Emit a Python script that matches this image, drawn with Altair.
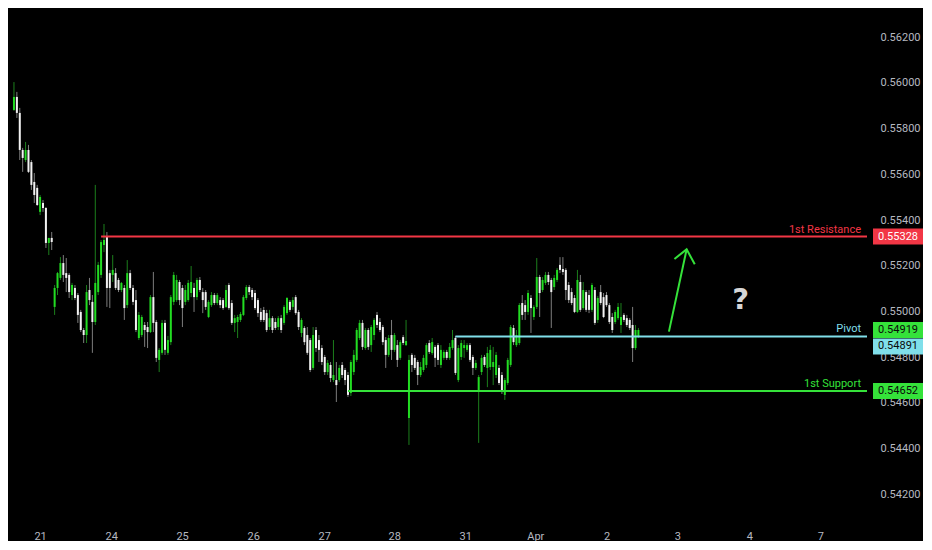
import altair as alt
import pandas as pd

# ---------------- data ----------------
opens = [0.55882,0.55939,0.55869,0.55707,0.55663,0.55707,0.55654,0.55567,0.55541,0.55436,
0.55475,0.55453,0.55300,0.55322,0.55020,0.55103,0.55147,0.55212,0.55168,0.55160,
0.55072,0.55103,0.55072,0.54998,0.54919,0.54897,0.55094,0.55042,0.54954,0.55085,
0.55160,0.55291,0.55326,0.55168,0.55160,0.55168,0.55138,0.55094,0.55103,0.55028,
0.55168,0.55103,0.55050,0.54884,0.54897,0.54941,0.54932,0.54910,0.55063,0.54954,
0.54788,0.54819,0.54950,0.54819,0.54866,0.55042,0.55050,0.55129,0.55103,0.55042,
0.55050,0.55081,0.55103,0.55063,0.55138,0.55085,0.55085,0.54976,0.55028,0.55072,
0.55037,0.55050,0.55050,0.55020,0.55116,0.55037,0.54950,0.54954,0.54963,0.54985,
0.55059,0.55107,0.55094,0.55081,0.55050,0.54998,0.55007,0.54993,0.54932,0.54971,
0.54954,0.54932,0.54971,0.54950,0.54993,0.55042,0.55020,0.55063,0.54998,0.54906,
0.54928,0.54897,0.54875,0.54753,0.54919,0.54875,0.54840,0.54801,0.54735,0.54766,
0.54700,0.54700,0.54700,0.54766,0.54744,0.54722,0.54643,0.54735,0.54788,0.54884,
0.54950,0.54840,0.54919,0.54853,0.54897,0.54985,0.54954,0.54932,0.54875,0.54810,
0.54897,0.54832,0.54853,0.54797,0.54888,0.54853,0.54534,0.54810,0.54797,0.54779,
0.54722,0.54744,0.54766,0.54862,0.54818,0.54845,0.54853,0.54766,0.54797,0.54823,
0.54797,0.54840,0.54884,0.54700,0.54801,0.54840,0.54832,0.54853,0.54801,0.54753,
0.54656,0.54735,0.54801,0.54753,0.54757,0.54757,0.54722,0.54753,0.54722,0.54635,
0.54687,0.54766,0.54928,0.54853,0.54862,0.55037,0.55028,0.54998,0.55059,0.54976,
0.55020,0.55151,0.55094,0.55125,0.55160,0.55138,0.55107,0.55138,0.55204,0.55186,
0.55182,0.55116,0.55085,0.55059,0.54998,0.55129,0.55015,0.55085,0.55072,0.55007,
0.55094,0.54963,0.55085,0.55063,0.55072,0.55028,0.54976,0.54954,0.54971,0.54941,
0.54985,0.54971,0.54963,0.54941,0.54840,0.54888]
highs = [0.56004,0.55961,0.55891,0.55716,0.55742,0.55729,0.55663,0.55606,0.55554,0.55510,
0.55488,0.55457,0.55322,0.55348,0.55116,0.55173,0.55238,0.55247,0.55234,0.55168,
0.55125,0.55116,0.55081,0.55007,0.54928,0.55116,0.55147,0.55072,0.55554,0.55217,
0.55313,0.55383,0.55348,0.55182,0.55247,0.55190,0.55147,0.55129,0.55116,0.55225,
0.55182,0.55116,0.55094,0.54998,0.54985,0.54954,0.54954,0.55072,0.55173,0.54963,
0.54840,0.54963,0.54963,0.54893,0.55072,0.55173,0.55160,0.55138,0.55116,0.55116,
0.55138,0.55199,0.55125,0.55147,0.55151,0.55103,0.55094,0.55050,0.55085,0.55081,
0.55081,0.55063,0.55059,0.55116,0.55125,0.55050,0.54985,0.54985,0.54998,0.55072,
0.55116,0.55116,0.55103,0.55094,0.55059,0.55015,0.55020,0.55007,0.55007,0.54980,
0.54971,0.54980,0.54985,0.55028,0.55063,0.55050,0.55063,0.55072,0.55007,0.54971,
0.54936,0.54932,0.54884,0.54932,0.54932,0.54897,0.54853,0.54810,0.54788,0.54779,
0.54875,0.54779,0.54766,0.54779,0.54753,0.54735,0.54788,0.54832,0.54928,0.54963,
0.54963,0.54928,0.54928,0.54941,0.54971,0.54998,0.54971,0.54941,0.54888,0.54897,
0.54963,0.54906,0.54875,0.54875,0.54897,0.54963,0.54810,0.54818,0.54810,0.54788,
0.54779,0.54810,0.54862,0.54875,0.54884,0.54853,0.54862,0.54853,0.54832,0.54832,
0.54862,0.54919,0.54893,0.54853,0.54875,0.54875,0.54862,0.54862,0.54810,0.54788,
0.54722,0.54810,0.54810,0.54845,0.54853,0.54845,0.54823,0.54766,0.54735,0.54709,
0.54797,0.54941,0.54941,0.54919,0.55037,0.55072,0.55050,0.55094,0.55072,0.55028,
0.55234,0.55160,0.55151,0.55173,0.55173,0.55147,0.55160,0.55190,0.55238,0.55238,
0.55190,0.55129,0.55103,0.55072,0.55182,0.55160,0.55129,0.55094,0.55094,0.55125,
0.55107,0.55068,0.55116,0.55081,0.55085,0.55037,0.54993,0.55007,0.55037,0.55037,
0.54993,0.54985,0.54971,0.55020,0.54941,0.54928]
lows = [0.55878,0.55847,0.55663,0.55611,0.55654,0.55606,0.55532,0.55475,0.55462,0.55422,
0.55436,0.55278,0.55247,0.55269,0.54985,0.55072,0.55138,0.55129,0.55085,0.55059,
0.55050,0.55050,0.54950,0.54910,0.54862,0.54862,0.55028,0.54819,0.54941,0.55072,
0.55147,0.55260,0.55020,0.55015,0.55129,0.55094,0.55085,0.55085,0.54963,0.55015,
0.55094,0.55028,0.54910,0.54875,0.54888,0.54845,0.54840,0.54906,0.54910,0.54779,
0.54735,0.54810,0.54810,0.54810,0.54853,0.55028,0.55042,0.55028,0.54932,0.55028,
0.55042,0.55063,0.54998,0.55050,0.55085,0.54993,0.55007,0.54971,0.55020,0.55028,
0.55028,0.55015,0.55007,0.55015,0.55007,0.54941,0.54910,0.54884,0.54954,0.54980,
0.55050,0.55072,0.55050,0.55007,0.54976,0.54954,0.54954,0.54910,0.54919,0.54906,
0.54919,0.54919,0.54906,0.54941,0.54985,0.54998,0.55007,0.54985,0.54919,0.54888,
0.54853,0.54810,0.54735,0.54744,0.54823,0.54779,0.54766,0.54722,0.54722,0.54691,
0.54691,0.54604,0.54691,0.54709,0.54678,0.54626,0.54630,0.54722,0.54779,0.54875,
0.54832,0.54832,0.54832,0.54823,0.54875,0.54928,0.54910,0.54853,0.54753,0.54801,
0.54788,0.54823,0.54757,0.54788,0.54853,0.54849,0.54416,0.54735,0.54744,0.54678,
0.54713,0.54735,0.54753,0.54814,0.54810,0.54757,0.54766,0.54753,0.54788,0.54788,
0.54788,0.54832,0.54722,0.54691,0.54788,0.54797,0.54823,0.54779,0.54722,0.54744,
0.54425,0.54722,0.54757,0.54669,0.54744,0.54678,0.54709,0.54678,0.54639,0.54613,
0.54678,0.54757,0.54853,0.54845,0.54853,0.54963,0.54963,0.54985,0.54906,0.54963,
0.55011,0.54976,0.55085,0.55116,0.55116,0.54928,0.55094,0.55129,0.55168,0.55160,
0.55050,0.55037,0.55028,0.54993,0.54993,0.54998,0.55007,0.54998,0.54993,0.54998,
0.54941,0.54950,0.55028,0.54971,0.55020,0.54945,0.54906,0.54945,0.54963,0.54906,
0.54954,0.54932,0.54919,0.54779,0.54832,0.54884]
closes = [0.55939,0.55869,0.55707,0.55672,0.55707,0.55611,0.55554,0.55510,0.55466,0.55501,
0.55453,0.55300,0.55322,0.55304,0.55103,0.55168,0.55212,0.55160,0.55147,0.55085,
0.55116,0.55059,0.54985,0.54919,0.54897,0.55085,0.55050,0.54954,0.55125,0.55204,
0.55304,0.55313,0.55103,0.55103,0.55182,0.55103,0.55094,0.55125,0.55015,0.55168,
0.55103,0.55042,0.54919,0.54985,0.54976,0.54919,0.54910,0.55063,0.54950,0.54797,
0.54832,0.54950,0.54832,0.54875,0.55063,0.55160,0.55138,0.55050,0.55015,0.55094,
0.55125,0.55129,0.55063,0.55138,0.55094,0.55050,0.55020,0.55042,0.55072,0.55037,
0.55072,0.55028,0.55015,0.55094,0.55015,0.54950,0.54971,0.54976,0.54989,0.55063,
0.55107,0.55085,0.55063,0.55015,0.54993,0.54963,0.54963,0.54919,0.54971,0.54919,
0.54928,0.54971,0.54919,0.55020,0.55059,0.55007,0.55050,0.54993,0.54932,0.54963,
0.54866,0.54819,0.54744,0.54897,0.54840,0.54832,0.54779,0.54735,0.54775,0.54709,
0.54722,0.54678,0.54753,0.54722,0.54700,0.54635,0.54779,0.54810,0.54919,0.54950,
0.54845,0.54919,0.54845,0.54932,0.54963,0.54941,0.54919,0.54866,0.54810,0.54884,
0.54832,0.54897,0.54788,0.54866,0.54862,0.54871,0.54788,0.54766,0.54753,0.54722,
0.54757,0.54797,0.54853,0.54823,0.54866,0.54797,0.54788,0.54832,0.54823,0.54797,
0.54845,0.54875,0.54731,0.54840,0.54862,0.54853,0.54853,0.54788,0.54753,0.54775,
0.54713,0.54797,0.54766,0.54818,0.54832,0.54779,0.54810,0.54687,0.54648,0.54700,
0.54788,0.54932,0.54866,0.54897,0.55028,0.54985,0.54998,0.55081,0.55015,0.55020,
0.55151,0.55081,0.55138,0.55160,0.55129,0.55085,0.55147,0.55182,0.55182,0.55173,
0.55094,0.55050,0.55037,0.54998,0.55138,0.55007,0.55094,0.55007,0.55007,0.55116,
0.54950,0.55059,0.55037,0.54976,0.55028,0.54954,0.54919,0.54998,0.55020,0.54976,
0.54963,0.54941,0.54928,0.54840,0.54919,0.54919]

# x-axis day labels (positions in hourly-bar units) and price ticks
tick_pos = [9.0, 33.5, 57.9, 82.4, 106.8, 130.9, 155.4, 179.5, 204.0, 228.4, 253.2, 277.6]
tick_text = ["21", "24", "25", "26", "27", "28", "31", "Apr", "2", "3", "4", "7"]
price_ticks = [0.542, 0.544, 0.546, 0.548, 0.550, 0.552, 0.554, 0.556, 0.558, 0.560, 0.562]

# horizontal levels
level_names = ["1st Resistance", "Pivot", "1st Support"]
level_values = [0.55328, 0.54891, 0.54652]
level_start = [30, 152, 115]
level_colors = ["#f23645", "#80dfea", "#35e23a"]

# price tags on the right scale
tag_values = [0.55328, 0.54919, 0.54652]
tag_text = ["0.55328", "0.54919", "0.54652"]
tag_fill = ["#f23645", "#35e23a", "#35e23a"]
tag_ink = ["#ffffff", "#0a0a0a", "#0a0a0a"]
pivot_tag_value = [0.54891]
pivot_tag_text = ["0.54891"]

# projected-move arrow and question mark
arrow_i = [225.5, 231.6, 227.4, 231.6, 234.4]
arrow_p = [0.54912, 0.55272, 0.55230, 0.55272, 0.55207]
arrow_part = ["shaft", "shaft", "head", "head", "head"]
q_i = [250.2]
q_p = [0.55050]

# ---------------- styling ----------------
BG = "#000000"
BULL_BODY, BULL_WICK = "#22dd22", "#1c7f1c"
BEAR_BODY, BEAR_WICK = "#f2f2f2", "#7d7d7d"
AXIS_TXT = "#b6b9c0"
FONT = "Roboto"
W, H = 864, 515
X_MIN, X_MAX = -0.33, 293.7
Y_MIN, Y_MAX = 0.540744, 0.563282

xs = alt.Scale(domain=[X_MIN, X_MAX], nice=False, zero=False)
ys = alt.Scale(domain=[Y_MIN, Y_MAX], nice=False, zero=False)

up = [c >= o for o, c in zip(opens, closes)]
df = pd.DataFrame({
    "i": list(range(len(opens))),
    "open": opens, "high": highs, "low": lows, "close": closes,
    "body": [BULL_BODY if u else BEAR_BODY for u in up],
    "wick": [BULL_WICK if u else BEAR_WICK for u in up],
})

pos_js = "[" + ",".join(repr(v) for v in tick_pos) + "]"
txt_js = "[" + ",".join("'" + t + "'" for t in tick_text) + "]"
label_expr = txt_js + "[indexof(" + pos_js + ", datum.value)]"

x_axis = alt.Axis(values=tick_pos, labelExpr=label_expr, ticks=False, domain=False,
                  grid=False, title=None, labelPadding=7, labelFontSize=11,
                  labelColor=AXIS_TXT, labelFont=FONT, labelOverlap=False)
y_axis = alt.Axis(orient="right", values=price_ticks, format=".5f", ticks=False,
                  domain=False, grid=False, title=None, labelPadding=8,
                  labelFontSize=11, labelColor=AXIS_TXT, labelFont=FONT)


def X(field):
    return alt.X(field, scale=xs, axis=x_axis)


def Y(field):
    return alt.Y(field, scale=ys, axis=y_axis)


base = alt.Chart(df)
wicks = base.mark_rule(strokeWidth=1).encode(
    x=X("i:Q"), y=Y("low:Q"), y2="high:Q",
    color=alt.Color("wick:N", scale=None),
)
bodies = base.mark_bar(size=2).encode(
    x=X("i:Q"), y=Y("open:Q"), y2="close:Q",
    color=alt.Color("body:N", scale=None),
)

lv = pd.DataFrame({"name": level_names, "value": level_values, "start": level_start,
                   "end": [X_MAX] * len(level_names), "color": level_colors})
lines = alt.Chart(lv).mark_rule(strokeWidth=2).encode(
    x=X("start:Q"), x2="end:Q", y=Y("value:Q"),
    color=alt.Color("color:N", scale=None),
)
line_text = alt.Chart(lv).mark_text(align="right", baseline="alphabetic", dx=-6, dy=-4,
                                    fontSize=11, font=FONT).encode(
    x=X("end:Q"), y=Y("value:Q"), text="name:N",
    color=alt.Color("color:N", scale=None),
)

ar = pd.DataFrame({"i": arrow_i, "p": arrow_p, "part": arrow_part,
                   "k": list(range(len(arrow_i)))})
arrow = alt.Chart(ar).mark_line(strokeWidth=2, color="#35e23a").encode(
    x=X("i:Q"), y=Y("p:Q"), detail="part:N", order="k:Q",
)
qm = alt.Chart(pd.DataFrame({"i": q_i, "p": q_p, "t": ["?"]})).mark_text(
    fontSize=29, fontWeight="bold", font="DejaVu Sans", color="#d6d6d6").encode(
    x=X("i:Q"), y=Y("p:Q"), text="t:N",
)

BOX = "M -1 -0.32 L 1 -0.32 L 1 0.32 L -1 0.32 Z"
BOX_LOW = "M -1 0.08 L 1 0.08 L 1 0.72 L -1 0.72 Z"
TAG_X = W + 26

tg = pd.DataFrame({"v": tag_values, "t": tag_text, "fill": tag_fill, "ink": tag_ink})
tags = alt.Chart(tg).mark_point(shape=BOX, size=2500, filled=True, opacity=1,
                                strokeWidth=0).encode(
    x=alt.value(TAG_X), y=Y("v:Q"), color=alt.Color("fill:N", scale=None),
)
tag_txt = alt.Chart(tg).mark_text(fontSize=11, font=FONT, baseline="middle").encode(
    x=alt.value(TAG_X), y=Y("v:Q"), text="t:N",
    color=alt.Color("ink:N", scale=None),
)
pt = pd.DataFrame({"v": pivot_tag_value, "t": pivot_tag_text})
ptag = alt.Chart(pt).mark_point(shape=BOX_LOW, size=2500, filled=True, opacity=1,
                                strokeWidth=0, color="#80dfea").encode(
    x=alt.value(TAG_X), y=Y("v:Q"),
)
ptag_txt = alt.Chart(pt).mark_text(fontSize=11, font=FONT, baseline="middle", dy=10,
                                   color="#0a0a0a").encode(
    x=alt.value(TAG_X), y=Y("v:Q"), text="t:N",
)

chart = alt.layer(wicks, bodies, lines, line_text, arrow, qm, tags, tag_txt, ptag, ptag_txt).properties(
    width=W, height=H, background=BG, padding=0
).configure_view(strokeWidth=0, fill=BG)

chart.save("out.html", embed_options={"renderer": "svg", "actions": False})
